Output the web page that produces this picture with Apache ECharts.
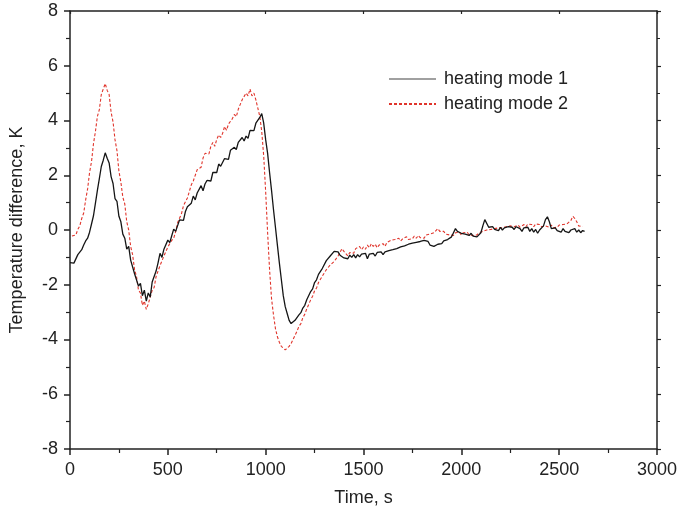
<!DOCTYPE html>
<html>
<head>
<meta charset="utf-8">
<script src="https://cdn.jsdelivr.net/npm/echarts@6/dist/echarts.min.js"></script>
<style>html,body{margin:0;padding:0;background:#fff}#c{width:680px;height:517px}</style>
</head>
<body>
<div id="c"></div>
<script>
// Data (time in s, temperature difference in K)
const seriesNames = ['heating mode 1', 'heating mode 2'];
const xTicks = [0, 500, 1000, 1500, 2000, 2500, 3000];
const yTicks = [-8, -6, -4, -2, 0, 2, 4, 6, 8];
const sampleStep = 10;
const mode1Start = 0;
const mode1Vals = [
-1.19,-1.2,-1.21,-1.19,-0.9,-0.88,-0.72,-0.55,-0.4,-0.3,
-0.08,0.22,0.52,0.98,1.45,1.88,2.32,2.55,2.82,2.62,
2.45,1.95,1.7,1.15,1.05,0.5,0.3,-0.15,-0.3,-0.7,
-0.6,-1.1,-1.15,-1.6,-1.55,-2.05,-1.95,-2.4,-2.2,-2.6,
-2.3,-2.45,-1.9,-1.85,-1.5,-1.2,-0.85,-1.0,-0.7,-0.65,
-0.37,-0.46,-0.21,0.03,-0.05,0.02,0.37,0.38,0.35,0.68,
0.85,0.8,0.98,1.24,1.1,1.35,1.36,1.62,1.43,1.68,
1.81,1.78,1.79,2.1,2.12,2.1,2.41,2.33,2.34,2.61,
2.66,2.58,2.91,2.86,3.02,2.94,3.2,3.14,3.38,3.25,
3.43,3.35,3.64,3.62,3.63,3.9,3.87,4.11,4.25,3.9,
3.3,2.8,2.1,1.45,0.75,0.1,-0.55,-1.2,-1.8,-2.4,
-2.8,-3.05,-3.3,-3.42,-3.48,-3.3,-3.3,-3.1,-3.02,-2.85,
-2.75,-2.55,-2.5,-2.25,-2.15,-1.92,-1.82,-1.62,-1.58,-1.4,
-1.35,-1.12,-1.08,-0.95,-0.88,-0.78,-0.85,-0.8,-0.92,-0.9,
-1.02,-0.95,-1.05,-0.92,-1.0,-0.9,-1.02,-0.9,-0.98,-0.88,
-0.95,-0.85,-1.05,-0.88,-0.92,-0.85,-0.95,-0.82,-0.88,-0.8,
-0.9,-0.8,-0.85,-0.75,-0.82,-0.72,-0.78,-0.68,-0.75,-0.62,
-0.68,-0.58,-0.62,-0.52,-0.58,-0.48,-0.55,-0.45,-0.5,-0.42,
-0.45,-0.38,-0.45,-0.42,-0.55,-0.52,-0.6,-0.55,-0.52,-0.45,
-0.5,-0.4,-0.42,-0.35,-0.3,-0.25,-0.1,0.05,-0.05,0.02,
-0.12,-0.05,-0.15,-0.08,-0.2,-0.12,-0.22,-0.15,-0.25,-0.2,
-0.1,0.15,0.38,0.42,0.1,0.05,0.12,0.02,0.08,-0.02,
0.1,0.0,0.08,0.02,0.12,0.05,0.1,0.02,0.12,0.08,
0.05,-0.05,0.08,0.02,0.1,-0.05,0.05,-0.08,0.02,-0.12,
0.0,-0.05,0.15,0.38,0.48,0.3,0.05,0.0,0.08,-0.02,
0.02,-0.08,0.05,-0.05,0.02,-0.1,0.0,-0.05,0.05,-0.08,
0.0,-0.1,-0.02,-0.05
];
const mode2Start = 10;
const mode2Vals = [
-0.22,-0.28,-0.18,0.02,0.15,0.42,0.62,1.1,1.5,
2.1,2.5,3.15,3.6,4.15,4.4,4.95,4.9,5.35,5.1,
4.95,4.3,3.95,3.3,2.9,2.15,1.75,1.2,0.95,0.3,
0.0,-0.6,-0.9,-1.45,-1.7,-2.2,-2.3,-2.75,-2.6,-2.9,
-2.7,-2.65,-2.2,-2.1,-1.7,-1.65,-1.3,-1.25,-0.95,-0.9,
-0.62,-0.6,-0.38,-0.3,-0.06,0.27,0.25,0.6,0.89,0.87,
1.17,1.22,1.65,1.79,1.83,2.2,2.22,2.29,2.63,2.8,
2.73,2.78,3.06,3.2,3.06,3.31,3.47,3.38,3.53,3.78,
3.64,3.87,3.84,4.07,4.22,4.14,4.41,4.4,4.76,4.76,
5.0,4.9,5.15,4.9,5.0,4.75,4.45,4.15,3.6,2.7,
1.4,-0.1,-1.45,-2.5,-3.1,-3.6,-3.9,-4.1,-4.25,-4.3,
-4.38,-4.32,-4.25,-4.15,-4.0,-3.85,-3.7,-3.52,-3.42,-3.2,
-3.08,-2.88,-2.72,-2.55,-2.42,-2.22,-2.12,-1.92,-1.85,-1.68,
-1.65,-1.45,-1.42,-1.28,-1.3,-1.15,-1.18,-0.95,-0.88,-0.68,
-0.78,-0.85,-0.95,-0.82,-0.75,-0.85,-0.68,-0.75,-0.6,-0.72,
-0.62,-0.7,-0.55,-0.65,-0.5,-0.6,-0.52,-0.65,-0.55,-0.62,
-0.5,-0.6,-0.45,-0.5,-0.38,-0.45,-0.35,-0.42,-0.3,-0.4,
-0.32,-0.38,-0.25,-0.35,-0.28,-0.32,-0.22,-0.3,-0.2,-0.28,
-0.22,-0.3,-0.18,-0.25,-0.15,-0.22,-0.1,-0.05,0.05,-0.05,
-0.12,-0.05,-0.15,-0.08,-0.18,-0.12,-0.2,-0.1,-0.15,-0.08,
-0.18,-0.1,-0.15,-0.08,-0.18,-0.12,-0.2,-0.15,-0.18,-0.1,
-0.12,-0.05,-0.08,0.0,-0.05,0.02,-0.02,0.05,0.0,0.08,
0.02,0.08,0.05,0.12,0.05,0.15,0.08,0.12,0.1,0.18,
0.1,0.15,0.2,0.12,0.22,0.15,0.2,0.12,0.22,0.15,
0.2,0.12,0.18,0.15,0.22,0.1,0.18,0.08,0.15,0.1,
0.18,0.12,0.2,0.15,0.22,0.18,0.35,0.5,0.42,0.3,
0.15,0.2,0.12
];

const toPairs = (start, vals) => vals.map((v, i) => [start + i * sampleStep, v]);
const FONT = 'Liberation Sans';
const axisColor = '#222';

const chart = echarts.init(document.getElementById('c'), null, {renderer: 'canvas'});
const baseX = {
  type: 'value', min: xTicks[0], max: xTicks[xTicks.length - 1], interval: 500,
  splitLine: {show: false},
  axisLine: {show: true, onZero: false, lineStyle: {color: axisColor, width: 1.5}},
  axisTick: {show: true, length: 6, lineStyle: {color: axisColor, width: 1.5}},
  minorTick: {show: true, splitNumber: 2, length: 4, lineStyle: {color: axisColor, width: 1.2}}
};
const baseY = {
  type: 'value', min: yTicks[0], max: yTicks[yTicks.length - 1], interval: 2,
  splitLine: {show: false},
  axisLine: {show: true, onZero: false, lineStyle: {color: axisColor, width: 1.5}},
  axisTick: {show: true, length: 6, lineStyle: {color: axisColor, width: 1.5}},
  minorTick: {show: true, splitNumber: 2, length: 4, lineStyle: {color: axisColor, width: 1.2}}
};
const plain = v => String(v);
chart.setOption({
  animation: false,
  backgroundColor: '#fff',
  grid: {left: 70, right: 21, top: 11, bottom: 68, containLabel: false},
  legend: {
    orient: 'vertical', left: 383, top: 64, itemWidth: 47, itemHeight: 14, itemGap: 5,
    textStyle: {fontFamily: FONT, fontSize: 18, color: '#222', padding: [0, 0, 0, 3], lineHeight: 20},
    data: [
      {name: seriesNames[0], itemStyle: {opacity: 0}, lineStyle: {color: '#808080', width: 1.5}},
      {name: seriesNames[1], itemStyle: {opacity: 0}}
    ]
  },
  xAxis: [
    Object.assign({}, baseX, {
      position: 'bottom',
      name: 'Time, s', nameLocation: 'middle', nameGap: 40,
      nameTextStyle: {fontFamily: FONT, fontSize: 18, color: '#222'},
      axisLabel: {fontFamily: FONT, fontSize: 18, color: '#222', margin: 12, formatter: plain}
    }),
    Object.assign({}, baseX, {
      position: 'top', axisLabel: {show: false},
      axisTick: {show: true, inside: true, length: 3, lineStyle: {color: axisColor, width: 1.2}},
      minorTick: {show: false}
    })
  ],
  yAxis: [
    Object.assign({}, baseY, {
      position: 'left',
      name: 'Temperature difference, K', nameLocation: 'middle', nameGap: 44,
      nameTextStyle: {fontFamily: FONT, fontSize: 18, color: '#222'},
      axisLabel: {fontFamily: FONT, fontSize: 18, color: '#222', margin: 12, formatter: plain}
    }),
    Object.assign({}, baseY, {
      position: 'right', axisLabel: {show: false},
      axisTick: {show: true, length: 4, lineStyle: {color: axisColor, width: 1.2}},
      minorTick: {show: true, splitNumber: 2, length: 3, lineStyle: {color: axisColor, width: 1}}
    })
  ],
  series: [
    {
      name: seriesNames[0], type: 'line', xAxisIndex: 0, yAxisIndex: 0,
      symbol: 'none', showSymbol: false, z: 3,
      lineStyle: {color: '#151515', width: 1.3},
      itemStyle: {color: '#151515'},
      data: toPairs(mode1Start, mode1Vals)
    },
    {
      name: seriesNames[1], type: 'line', xAxisIndex: 0, yAxisIndex: 0,
      symbol: 'none', showSymbol: false, z: 2,
      lineStyle: {color: '#e0342b', width: 1.1, type: [3, 2]},
      itemStyle: {color: '#e0342b'},
      data: toPairs(mode2Start, mode2Vals)
    }
  ]
});
</script>
</body>
</html>
